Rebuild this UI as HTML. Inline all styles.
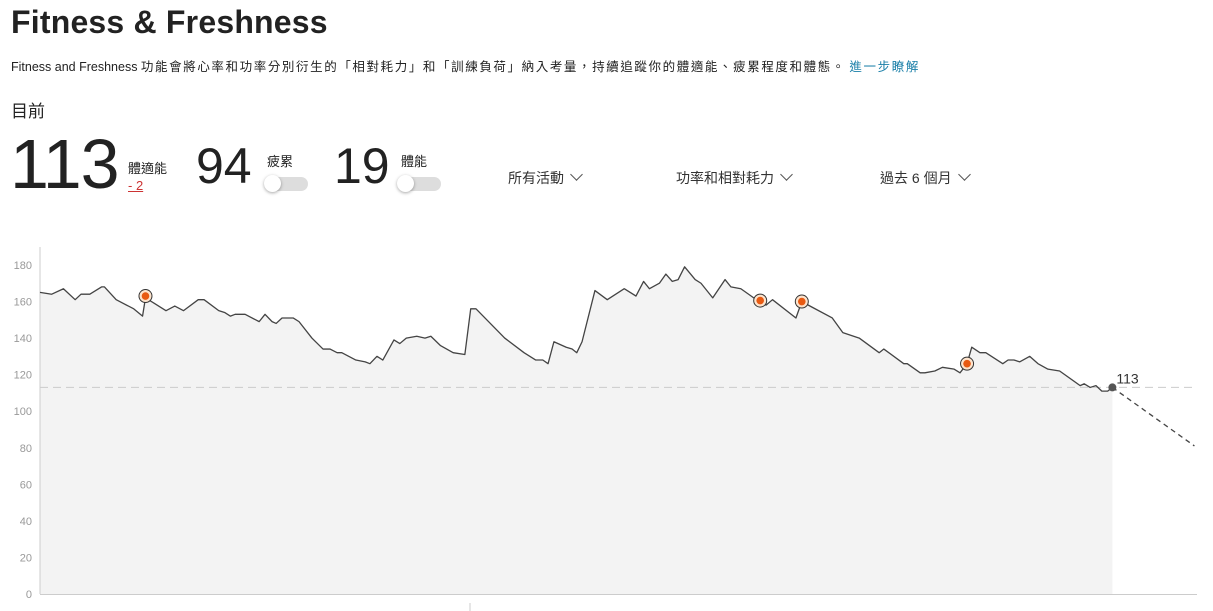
<!DOCTYPE html>
<html><head><meta charset="utf-8">
<style>
body{margin:0;width:1213px;height:611px;background:#fff;font-family:"Liberation Sans","Noto Sans CJK TC",sans-serif;color:#222;position:relative;overflow:hidden}
.a{position:absolute;white-space:nowrap}
.tog{position:absolute;width:42px;height:14px;border-radius:7px;background:#ddd}
.tog i{position:absolute;left:-2px;top:-2px;width:17px;height:17px;border-radius:50%;background:#fff;box-shadow:0 1px 3px rgba(0,0,0,.35)}
.dd{font-size:14px;color:#333}
.dd span{display:inline-block;width:8px;height:8px;border-right:1.3px solid #555;border-bottom:1.3px solid #555;transform:rotate(45deg);margin-left:8px;position:relative;top:-4px}
.cj{letter-spacing:1.6px}
</style></head><body>
<div class="a" style="left:11px;top:4px;font-size:32px;font-weight:bold;color:#222;letter-spacing:0.2px">Fitness &amp; Freshness</div>
<div class="a" style="left:11px;top:56px;font-size:12.5px;color:#222">Fitness and Freshness <span class="cj">功能會將心率和功率分別衍生的「相對耗力」和「訓練負荷」納入考量，持續追蹤你的體適能、疲累程度和體態。</span> <span class="cj" style="color:#1a7fa8">進一步瞭解</span></div>
<div class="a" style="left:11px;top:97px;font-size:17px">目前</div>
<div class="a" style="left:10px;top:126px;font-size:70px;line-height:76px;letter-spacing:-1px">113</div>
<div class="a" style="left:128px;top:158px;font-size:13px">體適能</div>
<div class="a" style="left:128px;top:178px;font-size:13px;color:#c33;text-decoration:underline">- 2</div>
<div class="a" style="left:196px;top:138px;font-size:50px;line-height:56px">94</div>
<div class="a" style="left:267px;top:151px;font-size:13px">疲累</div>
<div class="tog" style="left:266px;top:177px"><i></i></div>
<div class="a" style="left:334px;top:138px;font-size:50px;line-height:56px">19</div>
<div class="a" style="left:401px;top:151px;font-size:13px">體能</div>
<div class="tog" style="left:399px;top:177px"><i></i></div>
<div class="a dd" style="left:508px;top:168px">所有活動<span></span></div>
<div class="a dd" style="left:676px;top:168px">功率和相對耗力<span></span></div>
<div class="a dd" style="left:880px;top:168px">過去 6 個月<span></span></div>
<svg id="chart" class="a" style="left:0;top:0" width="1213" height="611"></svg>
<script>
const days=[0,2,4,6,7,8.5,10.5,11,13,16,17.5,18,19.5,21.5,23,24.5,27,28,30.5,31.5,32.5,33.3,35,37.4,38.4,39.6,40.3,41.3,43.2,44.2,46.4,48.3,49.5,50.7,51.5,53.9,55.5,56.3,57.5,58.5,60.4,61.4,62.5,64.3,65.7,66.7,68.3,70.5,72.5,73.5,74.4,79.3,82.6,84.6,85.8,86.7,87.7,89.8,90.8,91.6,92.5,94.7,96.8,99.7,101.7,103,104,105.7,106.8,107.9,108.9,110,111.8,112.8,114.8,116.9,117.9,119.6,121.8,122.9,123.9,125,129,130,131.7,135.2,137,139.8,143.2,144,147.4,148,150.2,151,152.7,154,156,157,158.2,159,160.4,161.4,164.3,165.2,166.2,167.2,168.9,170.3,172,174,177.5,178.2,179.2,180.2,181.2,182.2,183];
const fitness=[165,164,167,161,164,164,168,168,161,156,152,162,159,155,157.5,155,161,161,155,154,152,153,153,149,153,149,148,151,151,149,140,134,134,132,132,128,127,126,130,128,139,137,140,141,140,141,136,132,131,156,156,140,132,128,128,126,138,135,134,132,138,166,161,167,163,171,167,170,175,171,172,179,172,170,162,172,168,167,162,161,158,161,151,160,157,151,143,140,132,134,126,126,121,121,122,124,123,121,126,135,132,132,126,128,128,127,130,126,123,122,114,115,113,114,111,111,113];
const markerDays=[18,122.9,130,158.2];
const markerVals=[163,160.5,160,126];
const projDays=[183,197];
const projVals=[113,81];
const yTicks=[0,20,40,60,80,100,120,140,160,180];
const currentValue=113;
const X=d=>40+d*5.86, Y=v=>594-v*1.828;
const svg=document.getElementById('chart'),NS='http://www.w3.org/2000/svg';
function mk(t,a){const e=document.createElementNS(NS,t);for(const k in a)e.setAttribute(k,a[k]);svg.appendChild(e);return e;}
let pts=days.map((d,i)=>X(d)+','+Y(fitness[i])).join(' ');
let area=mk('polygon',{points:X(days[0])+','+Y(0)+' '+pts+' '+X(days[days.length-1])+','+Y(0),fill:'#f3f3f3'});


yTicks.forEach(t=>{const tx=mk('text',{x:32,y:Y(t)+4,'text-anchor':'end','font-size':11,fill:'#999','font-family':'Liberation Sans'});tx.textContent=t;

});
let ax=mk('line',{x1:40,y1:247,x2:40,y2:594,stroke:'#ccc'});


let bx=mk('line',{x1:40,y1:594.5,x2:1197,y2:594.5,stroke:'#ccc'});


let tk=mk('line',{x1:470,y1:603,x2:470,y2:611,stroke:'#ccc'});


let ref=mk('line',{x1:40,y1:Y(currentValue),x2:1197,y2:Y(currentValue),stroke:'#ccc','stroke-dasharray':'8,5'});


let ln=mk('polyline',{points:pts,fill:'none',stroke:'#444','stroke-width':1.3,'stroke-linejoin':'round'});


let pj=mk('polyline',{points:projDays.map((d,i)=>X(d)+','+Y(projVals[i])).join(' '),fill:'none',stroke:'#444','stroke-width':1.3,'stroke-dasharray':'5,4'});


markerDays.forEach((d,i)=>{const o=mk('circle',{cx:X(d),cy:Y(markerVals[i]),r:6.5,fill:'#fde3cc',stroke:'#333','stroke-width':1});


const c=mk('circle',{cx:X(d),cy:Y(markerVals[i]),r:3.8,fill:'#e85a12'});

});
let cd=mk('circle',{cx:X(183),cy:Y(currentValue),r:4,fill:'#555'});


let cl=mk('text',{x:X(183)+4,y:Y(currentValue)-4,'font-size':14,fill:'#333','font-family':'Liberation Sans'});
cl.textContent=currentValue;


</script>
</body></html>
